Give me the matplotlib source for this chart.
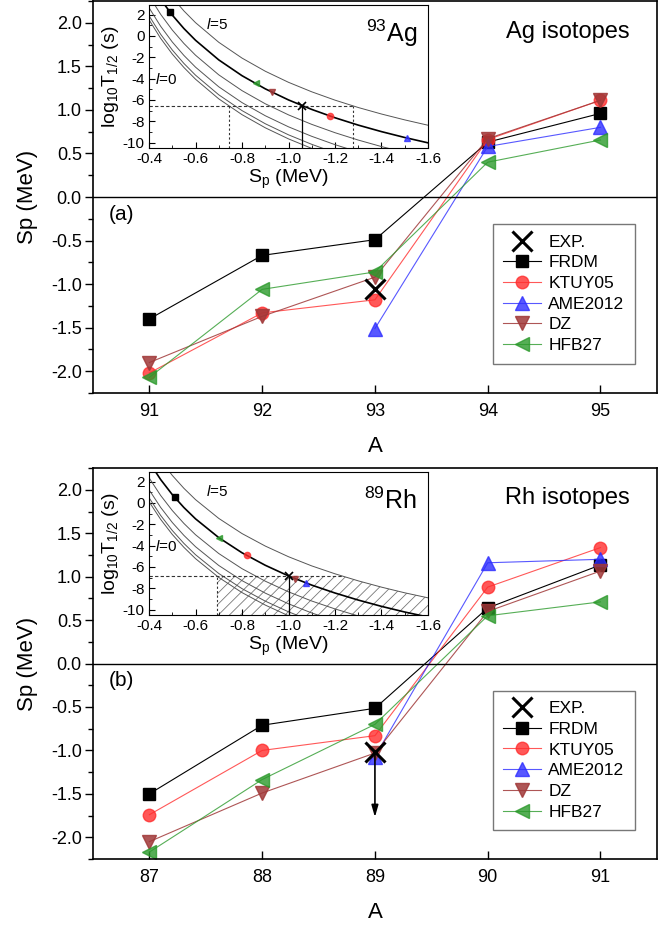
import numpy as np
import matplotlib
matplotlib.use('Agg')
import matplotlib.pyplot as plt
from matplotlib.ticker import MultipleLocator, FormatStrFormatter

plt.rcParams['font.family'] = ['Liberation Sans', 'DejaVu Sans']
plt.rcParams['mathtext.fontset'] = 'custom'
plt.rcParams['mathtext.rm'] = 'Liberation Sans'
plt.rcParams['mathtext.it'] = 'Liberation Sans:italic'
plt.rcParams['axes.unicode_minus'] = False
plt.rcParams['hatch.linewidth'] = 0.6

nan = np.nan

# ---- main panels: proton separation energies (MeV)
models = ['FRDM', 'KTUY05', 'AME2012', 'DZ', 'HFB27']

ag_A = [91, 92, 93, 94, 95]
ag_frdm = [-1.40, -0.67, -0.49, 0.63, 0.96]
ag_ktuy = [-2.02, -1.33, -1.18, 0.66, 1.11]
ag_ame = [nan, nan, -1.51, 0.58, 0.80]
ag_dz = [-1.90, -1.37, -0.92, 0.67, 1.11]
ag_hfb = [-2.07, -1.06, -0.86, 0.40, 0.655]
ag_exp_A = 93
ag_exp = -1.06

rh_A = [87, 88, 89, 90, 91]
rh_frdm = [-1.50, -0.71, -0.515, 0.64, 1.135]
rh_ktuy = [-1.74, -1.00, -0.83, 0.88, 1.335]
rh_ame = [nan, nan, -1.07, 1.16, 1.20]
rh_dz = [-2.05, -1.49, -1.03, 0.60, 1.065]
rh_hfb = [-2.17, -1.335, -0.70, 0.55, 0.71]
rh_exp_A = 89
rh_exp = -1.02
rh_exp_limit = -1.80

# ---- insets: log10 T1/2 (s) vs Sp (MeV) for l = 0..5
inset_sp = [-0.40, -0.45, -0.50, -0.55, -0.60, -0.70, -0.80, -0.90,
            -1.00, -1.10, -1.20, -1.30, -1.40, -1.50, -1.60]

ag_curves = [
    [1.51, -0.23, -1.70, -2.96, -4.06, -5.90, -7.38, -8.61, -9.65, -10.54, -11.32, -12.01, -12.62, -13.17, -13.67],
    [1.89, 0.15, -1.32, -2.58, -3.68, -5.52, -7.00, -8.23, -9.27, -10.16, -10.94, -11.63, -12.24, -12.79, -13.29],
    [2.64, 0.90, -0.57, -1.83, -2.93, -4.77, -6.25, -7.48, -8.52, -9.41, -10.19, -10.88, -11.49, -12.04, -12.54],
    [3.76, 2.02, 0.55, -0.71, -1.81, -3.65, -5.13, -6.36, -7.40, -8.29, -9.07, -9.76, -10.37, -10.92, -11.42],
    [5.16, 3.42, 1.95, 0.69, -0.41, -2.25, -3.73, -4.96, -6.00, -6.89, -7.67, -8.36, -8.97, -9.52, -10.02],
    [6.81, 5.07, 3.60, 2.34, 1.24, -0.60, -2.08, -3.31, -4.35, -5.24, -6.02, -6.71, -7.32, -7.87, -8.37],
]
rh_curves = [
    [0.12, -1.54, -2.95, -4.16, -5.22, -6.98, -8.40, -9.57, -10.57, -11.43, -12.17, -12.83, -13.42, -13.95, -14.42],
    [0.49, -1.17, -2.58, -3.79, -4.85, -6.61, -8.03, -9.20, -10.20, -11.06, -11.80, -12.46, -13.05, -13.58, -14.05],
    [1.24, -0.42, -1.83, -3.04, -4.10, -5.86, -7.28, -8.45, -9.45, -10.31, -11.05, -11.71, -12.30, -12.83, -13.30],
    [2.36, 0.70, -0.71, -1.92, -2.98, -4.74, -6.16, -7.33, -8.33, -9.19, -9.93, -10.59, -11.18, -11.71, -12.18],
    [3.85, 2.19, 0.78, -0.43, -1.49, -3.25, -4.67, -5.84, -6.84, -7.70, -8.44, -9.10, -9.69, -10.22, -10.69],
    [5.65, 3.99, 2.58, 1.37, 0.31, -1.45, -2.87, -4.04, -5.04, -5.90, -6.64, -7.30, -7.89, -8.42, -8.89],
]

# model points on the l=4 curve (FRDM, KTUY05, AME2012, DZ, HFB27) and EXP
ag_in_sp = [-0.49, -1.18, -1.51, -0.93, -0.86]
ag_in_log = [2.2, -7.5, -9.57, -5.3, -4.45]
ag_in_exp = (-1.06, -6.55)
ag_in_range = [-0.744, -1.277]

rh_in_sp = [-0.51, -0.82, -1.075, -1.03, -0.70]
rh_in_log = [0.54, -4.90, -7.49, -7.10, -3.25]
rh_in_exp = (-1.00, -6.84)
rh_in_range = [-0.692, -1.230]
rh_hatch_sp = [-0.692, -1.230, -1.30, -1.40, -1.50, -1.60]
rh_hatch_top = [-6.84, -6.84, -7.30, -7.89, -8.42, -8.89]

colors = ['black', '#ff2e2e', '#2e2eff', '#a03838', '#2c9a2c']
marks = ['s', 'o', '^', 'v', '<']
msizes = [8, 9, 9.5, 9.5, 9.5]
alphas = [1.0, 0.8, 0.8, 0.85, 0.8]


def main_panel(ax, A, series, exp_A, exp_val, tag, title):
    handles = []
    for vals, c, m, ms, al, name in zip(series, colors, marks, msizes, alphas, models):
        h, = ax.plot(A, vals, color=c, marker=m, ms=ms, lw=0.8, alpha=al, label=name)
        handles.append(h)
    hx, = ax.plot([exp_A], [exp_val], 'x', color='black', ms=15, mew=2.2,
                  label='EXP.', zorder=5)
    ax.axhline(0, color='black', lw=1.0)
    ax.set_xlim(A[0] - 0.5, A[-1] + 0.5)
    ax.set_ylim(-2.25, 2.25)
    ax.set_xticks(A)
    ax.set_yticks(np.arange(-2.0, 2.01, 0.5))
    ax.yaxis.set_major_formatter(FormatStrFormatter('%.1f'))
    ax.yaxis.set_minor_locator(MultipleLocator(0.25))
    ax.tick_params(axis='x', direction='in', length=6, width=1, pad=7, labelsize=13)
    ax.tick_params(axis='y', direction='out', length=6, width=1, pad=2, labelsize=13)
    ax.tick_params(axis='y', which='minor', direction='out', length=3.5, width=1)
    for s in ax.spines.values():
        s.set_linewidth(1.2)
    ax.set_xlabel('A', fontsize=16, labelpad=12)
    ax.set_ylabel('Sp (MeV)', fontsize=16, labelpad=9)
    ax.text(A[0] - 0.36, -0.2, tag, fontsize=15, va='center')
    ax.text(A[0] + 3.71, 1.9, title, fontsize=17, ha='center', va='center')
    leg = ax.legend([hx] + handles, ['EXP.'] + models, loc='upper left',
                    bbox_to_anchor=(0.709, 0.431), fontsize=12.5, frameon=True,
                    fancybox=False, edgecolor='#555555', handlelength=2.2,
                    handletextpad=0.4, labelspacing=0.32, borderpad=0.6,
                    borderaxespad=0)
    leg.get_frame().set_linewidth(1.0)


def inset_panel(ax, curves, in_sp, in_log, exp_pt, vlines, xmax, label):
    for i, lg in enumerate(curves):
        if i == 4:
            ax.plot(inset_sp, lg, color='black', lw=1.2)
        else:
            ax.plot(inset_sp, lg, color='#555555', lw=0.7)
    ax.plot([-0.4, xmax], [exp_pt[1], exp_pt[1]], color='#333333', lw=0.8, ls=(0, (3, 2)))
    for x in vlines:
        ax.plot([x, x], [-10.5, exp_pt[1]], color='#333333', lw=0.8, ls=(0, (2, 2)))
    ax.plot([exp_pt[0], exp_pt[0]], [-10.5, exp_pt[1]], color='black', lw=0.9)
    for x, y, c, m, al in zip(in_sp, in_log, colors, marks, alphas):
        ax.plot([x], [y], marker=m, color=c, ms=4.5, alpha=al, ls='none')
    ax.plot([exp_pt[0]], [exp_pt[1]], 'x', color='black', ms=6, mew=1.2)
    ax.set_xlim(-0.4, -1.6)
    ax.set_ylim(-10.5, 2.9)
    ax.set_xticks(np.arange(-0.4, -1.61, -0.2))
    ax.set_yticks([2, 0, -2, -4, -6, -8, -10])
    ax.xaxis.set_major_formatter(FormatStrFormatter('%.1f'))
    ax.xaxis.set_minor_locator(MultipleLocator(0.1))
    ax.yaxis.set_minor_locator(MultipleLocator(1))
    ax.tick_params(which='both', direction='in', labelsize=11, pad=3)
    ax.tick_params(which='major', length=4)
    ax.tick_params(which='minor', length=2)
    ax.set_xlabel('S$_{\\rm p}$ (MeV)', fontsize=14, labelpad=1)
    ax.set_ylabel('log$_{10}$T$_{1/2}$ (s)', fontsize=14, labelpad=1)
    ax.text(0.96, 0.80, label, transform=ax.transAxes, fontsize=18, ha='right', va='center')
    ax.text(0.205, 0.86, '$l$=5', transform=ax.transAxes, fontsize=11, va='center')
    ax.text(0.02, 0.48, '$l$=0', transform=ax.transAxes, fontsize=11, va='center')


fig = plt.figure(figsize=(6.65, 9.3), dpi=100)
ax1 = fig.add_axes([0.1398, 0.5774, 0.848, 0.4215])
ax2 = fig.add_axes([0.1398, 0.0763, 0.848, 0.4204])
in1 = fig.add_axes([0.2241, 0.8409, 0.4195, 0.1538])
in2 = fig.add_axes([0.2241, 0.3387, 0.4195, 0.1538])

main_panel(ax1, ag_A, [ag_frdm, ag_ktuy, ag_ame, ag_dz, ag_hfb], ag_exp_A, ag_exp, '(a)', 'Ag isotopes')
main_panel(ax2, rh_A, [rh_frdm, rh_ktuy, rh_ame, rh_dz, rh_hfb], rh_exp_A, rh_exp, '(b)', 'Rh isotopes')
ax2.annotate('', xy=(rh_exp_A, rh_exp_limit), xytext=(rh_exp_A, rh_exp),
             arrowprops=dict(arrowstyle='-|>,head_width=0.2,head_length=0.7',
                             color='black', lw=1.2), zorder=6)

inset_panel(in1, ag_curves, ag_in_sp, ag_in_log, ag_in_exp, ag_in_range, ag_in_range[1], '$^{93}$Ag')
inset_panel(in2, rh_curves, rh_in_sp, rh_in_log, rh_in_exp, rh_in_range[:1], rh_in_range[1], '$^{89}$Rh')
in2.fill_between(rh_hatch_sp, -10.5, rh_hatch_top, facecolor='none',
                 edgecolor='#777777', hatch='///', linewidth=0)

fig.savefig('out.png', dpi=100)
